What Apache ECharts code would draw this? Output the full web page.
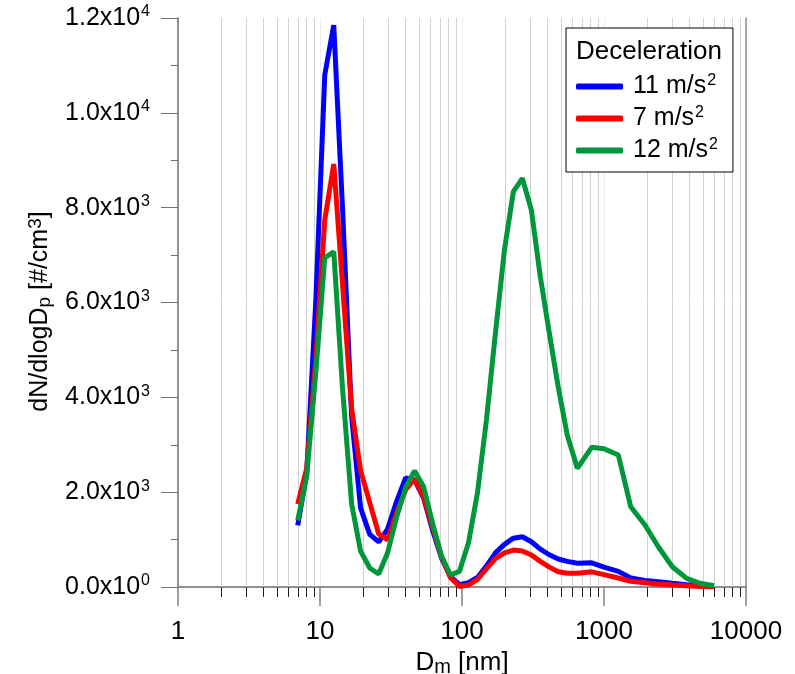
<!DOCTYPE html>
<html>
<head>
<meta charset="utf-8">
<script src="https://cdn.jsdelivr.net/npm/echarts@6/dist/echarts.min.js"></script>
<style>
  html, body { margin: 0; padding: 0; background: #fff; }
  #chart { width: 795px; height: 674px; }
</style>
</head>
<body>
<div id="chart"></div>
<script>
  // mobility diameter bins [nm]
  const diam = [6.97, 8.06, 9.33, 10.8, 12.5, 14.4, 16.7, 19.3, 22.4, 25.9, 29.9, 34.6, 40.1, 46.3, 53.6, 62.0,
    71.7, 83.0, 96.0, 111, 128.5, 148.6, 172, 199, 230, 266, 308, 356, 412, 476, 551,
    649, 819, 1000, 1261, 1542, 1944, 2412, 3027, 3821, 4742, 5953]

  const dec11 = [1300, 2400, 6000, 10800, 11850, 8000, 3600, 1670, 1110, 950, 1220, 1800, 2300, 2260, 1880, 1200,
    610, 217, 50, 90, 200, 440, 720, 900, 1030, 1060, 955, 800, 680, 590, 540,
    500, 510, 420, 330, 190, 140, 110, 80, 50, 30, 20]

  const dec7 = [1750, 2500, 4800, 7740, 8920, 6400, 3760, 2460, 1780, 1120, 990, 1560, 2050, 2280, 1900, 1270,
    640, 196, 10, 40, 160, 380, 600, 720, 780, 760, 675, 540, 420, 320, 290,
    290, 320, 260, 190, 120, 90, 60, 40, 25, 12, 5]

  const dec12 = [1400, 2340, 4500, 6940, 7070, 4200, 1750, 760, 400, 275, 717, 1470, 2100, 2450, 2120, 1350,
    650, 253, 330, 928, 1982, 3522, 5357, 7107, 8337, 8620, 7951, 6544, 5357, 4218, 3206,
    2503, 2946, 2917, 2784, 1693, 1308, 850, 428, 183, 78, 27]

  const seriesNames = ['11 m/s2', '7 m/s2', '12 m/s2']
  const seriesColors = ['#0000ff', '#ff0000', '#00963a']
  const xTickLabels = ['1', '10', '100', '1000', '10000']
  const yTicks = [0, 2000, 4000, 6000, 8000, 10000, 12000]

  // minor log ticks 2..9 per decade
  let minorX = []
  for (let d = 1; d < 10000; d *= 10) {
    for (let m = 2; m <= 9; m++) minorX.push(m * d)
  }

  const font = "'Liberation Sans', Arial, sans-serif"

  function yLabel (v) {
    if (v === 0) return '{m|0.0x10}{e|0}'
    let exp = Math.floor(Math.log10(v) + 1e-9)
    let mant = (v / Math.pow(10, exp)).toFixed(1)
    return '{m|' + mant + 'x10}{e|' + exp + '}'
  }

  let chart = echarts.init(document.getElementById('chart'))

  let lines = [dec11, dec7, dec12].map(function (vals, i) {
    return {
      name: seriesNames[i],
      type: 'line',
      showSymbol: false,
      z: 5,
      lineStyle: { color: seriesColors[i], width: 5 },
      itemStyle: { color: seriesColors[i] },
      data: diam.map(function (d, j) { return [d, vals[j]] })
    }
  })

  let options = {
    animation: false,
    grid: { left: 178, right: 49, top: 18, bottom: 87, outerBoundsMode: 'none', containLabel: false },
    title: {
      text: 'Deceleration',
      left: 576,
      top: 39,
      padding: 0,
      textStyle: { fontFamily: font, fontSize: 26, fontWeight: 'normal', color: '#000' }
    },
    legend: {
      orient: 'vertical',
      left: 566,
      top: 28,
      padding: [45, 15, 9, 10],
      borderColor: '#000',
      borderWidth: 1,
      backgroundColor: '#fff',
      itemWidth: 47,
      itemHeight: 6,
      itemGap: 6,
      icon: 'roundRect',
      data: seriesNames,
      formatter: function (name) {
        return '{t|' + name.slice(0, -1) + '}{s|2}'
      },
      textStyle: {
        fontFamily: font,
        color: '#000',
        padding: [0, 0, 0, 5],
        rich: {
          t: { fontFamily: font, fontSize: 25, color: '#000', lineHeight: 27 },
          s: { fontFamily: font, fontSize: 16, color: '#000', verticalAlign: 'top', lineHeight: 27, padding: [0, 0, 6, 1] }
        }
      }
    },
    xAxis: [
      {
        type: 'log',
        logBase: 10,
        min: 1,
        max: 10000,
        name: '{d|D}{sub|m}{d| [nm]}',
        nameLocation: 'middle',
        nameGap: 55,
        nameTextStyle: {
          rich: {
            d: { fontFamily: font, fontSize: 26, color: '#000' },
            sub: { fontFamily: font, fontSize: 20, color: '#000', verticalAlign: 'bottom', padding: [9, 0, 0, 0] }
          }
        },
        axisLine: { lineStyle: { color: '#707070', width: 1.5 } },
        axisTick: { length: 19, lineStyle: { color: '#808080', width: 1.5 } },
        axisLabel: {
          margin: 32,
          fontFamily: font,
          fontSize: 26,
          color: '#000',
          formatter: function (v) {
            let i = Math.round(Math.log10(v))
            return xTickLabels[i]
          }
        },
        splitLine: { show: true, lineStyle: { color: '#ececec', width: 1 } }
      },
      {
        type: 'log',
        position: 'top',
        min: 1,
        max: 10000,
        axisLine: { lineStyle: { color: '#909090', width: 1.5 } },
        axisTick: { show: false },
        axisLabel: { show: false },
        splitLine: { show: false }
      }
    ],
    yAxis: [
      {
        type: 'value',
        min: 0,
        max: 12000,
        interval: 2000,
        name: '{t|dN/dlogD}{sub|p}{t| [#/cm}{sup|3}{t|]}',
        nameLocation: 'middle',
        nameRotate: 90,
        nameGap: 122,
        nameTextStyle: {
          padding: [0, 18, 0, 0],
          rich: {
            t: { fontFamily: font, fontSize: 25, color: '#000' },
            sub: { fontFamily: font, fontSize: 19, color: '#000', verticalAlign: 'bottom', padding: [9, 0, 0, 0] },
            sup: { fontFamily: font, fontSize: 19, color: '#000', verticalAlign: 'top', padding: [0, 0, 9, 0] }
          }
        },
        axisLine: { show: true, lineStyle: { color: '#707070', width: 1.5 } },
        axisTick: { show: true, length: 17, lineStyle: { color: '#707070', width: 1 } },
        minorTick: { show: true, splitNumber: 2, length: 7, lineStyle: { color: '#707070', width: 1 } },
        axisLabel: {
          margin: 28,
          color: '#000',
          formatter: yLabel,
          rich: {
            m: { fontFamily: font, fontSize: 25, color: '#000', lineHeight: 28 },
            e: { fontFamily: font, fontSize: 16, color: '#000', verticalAlign: 'top', lineHeight: 28, padding: [0, 0, 8, 1] }
          }
        },
        splitLine: { show: false }
      },
      {
        type: 'value',
        position: 'right',
        min: 0,
        max: 12000,
        axisLine: { show: true, lineStyle: { color: '#909090', width: 1.5 } },
        axisTick: { show: false },
        axisLabel: { show: false },
        splitLine: { show: false }
      }
    ],
    series: [
      {
        name: 'minor',
        type: 'custom',
        z: 1,
        silent: true,
        data: minorX.map(function (v) { return [v, 0] }),
        renderItem: function (params, api) {
          let p = api.coord([api.value(0), 0])
          let cs = params.coordSys
          let x = Math.round(p[0]) + 0.5
          return {
            type: 'group',
            children: [
              {
                type: 'line',
                shape: { x1: x, y1: cs.y, x2: x, y2: cs.y + cs.height },
                style: { stroke: '#d2d2d2', lineWidth: 1 }
              },
              {
                type: 'line',
                shape: { x1: x, y1: p[1], x2: x, y2: p[1] + 10 },
                style: { stroke: '#222', lineWidth: 1 }
              }
            ]
          }
        }
      }
    ].concat(lines)
  }
  chart.setOption(options)
</script>
</body>
</html>
